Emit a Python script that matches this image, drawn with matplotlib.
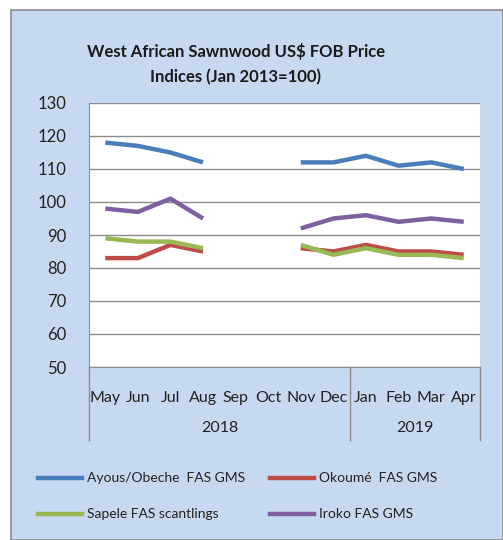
import numpy as np
import matplotlib
matplotlib.use('Agg')
import matplotlib.pyplot as plt
from matplotlib.patches import Rectangle
from matplotlib.lines import Line2D
import matplotlib.transforms as mtransforms

months = ['May', 'Jun', 'Jul', 'Aug', 'Sep', 'Oct', 'Nov', 'Dec', 'Jan', 'Feb', 'Mar', 'Apr']
years = ['2018', '2019']
year_spans = [(0, 8), (8, 12)]
nan = np.nan
ayous = [118, 117, 115, 112, nan, nan, 112, 112, 114, 111, 112, 110]
okoume = [83, 83, 87, 85, nan, nan, 86, 85, 87, 85, 85, 84]
sapele = [89, 88, 88, 86, nan, nan, 87, 84, 86, 84, 84, 83]
iroko = [98, 97, 101, 95, nan, nan, 92, 95, 96, 94, 95, 94]
names = ['Ayous/Obeche  FAS GMS', 'Okoumé  FAS GMS', 'Sapele FAS scantlings', 'Iroko FAS GMS']
colors = ['#4a7ebb', '#be4b48', '#98b954', '#7d60a0']

plt.rcParams['font.family'] = ['Lato', 'DejaVu Sans']

W, H = 503, 540
fig = plt.figure(figsize=(W / 100, H / 100), dpi=100)
fig.patch.set_facecolor('white')

def fx(px):
    return px / W

def fy(py):
    return 1 - py / H

# chart area background
fig.patches.append(Rectangle((fx(11), 0), fx(503) - fx(11), fy(10), transform=fig.transFigure,
                             facecolor='#c6d9f0', edgecolor='#8a8a8a', lw=1.2, zorder=-5))

fig.text(fx(236), fy(52), 'West African Sawnwood US$ FOB Price', ha='center', va='center',
         fontsize=12, fontweight='bold', color='#1a1a1a')
fig.text(fx(236), fy(77), 'Indices (Jan 2013=100)', ha='center', va='center',
         fontsize=12, fontweight='bold', color='#1a1a1a')

ax = fig.add_axes([fx(89), fy(367), fx(480) - fx(89), fy(103) - fy(367)])
ax.set_facecolor('white')
x = np.arange(len(months))
for vals, c in zip([ayous, okoume, sapele, iroko], colors):
    ax.plot(x, vals, color=c, lw=3.2, solid_capstyle='butt', zorder=3)

ax.set_xlim(-0.5, len(months) - 0.5)
ax.set_ylim(50, 130)
ax.set_yticks(range(50, 131, 10))
ax.grid(axis='y', color='#8c8c8c', lw=1)
ax.set_axisbelow(True)
ax.tick_params(axis='y', length=0, pad=16, labelsize=12, colors='#222222')
ax.set_xticks(x)
ax.set_xticklabels(months)
ax.tick_params(axis='x', length=0, pad=17, labelsize=11.5, colors='#222222')
for s in ['top', 'right']:
    ax.spines[s].set_visible(False)
ax.spines['left'].set_color('#8c8c8c')
ax.spines['bottom'].set_color('#8c8c8c')

# category group separators and year labels
trans = mtransforms.blended_transform_factory(ax.transData, fig.transFigure)
for b in [-0.5, 7.5, 11.5]:
    fig.lines.append(Line2D([b, b], [fy(367), fy(440)], transform=trans, color='#8c8c8c', lw=1))
for yr, (a, b) in zip(years, year_spans):
    fig.text((a + b - 1) / 2, fy(428), yr, transform=trans, ha='center', va='center',
             fontsize=11.5, color='#222222')

# legend
leg_pos = [(38, 478), (270, 478), (38, 514), (270, 514)]
for (px, py), name, c in zip(leg_pos, names, colors):
    fig.lines.append(Line2D([fx(px), fx(px + 44)], [fy(py), fy(py)], transform=fig.transFigure,
                            color=c, lw=3.2))
    fig.text(fx(px + 49), fy(py), name, ha='left', va='center', fontsize=10, color='#222222')

fig.savefig('out.png', dpi=100)
